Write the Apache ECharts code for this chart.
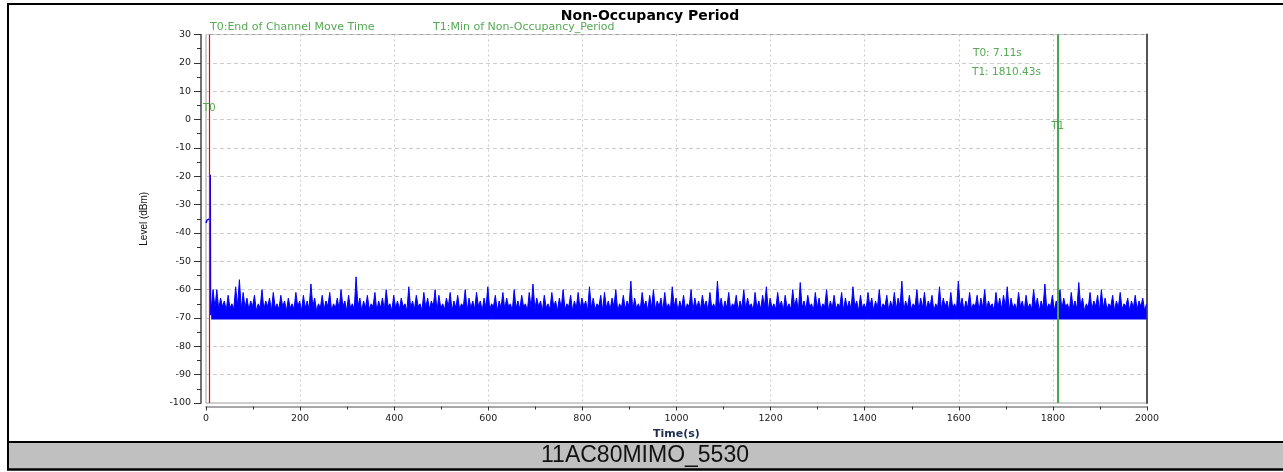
<!DOCTYPE html>
<html>
<head>
<meta charset="utf-8">
<script src="https://cdn.jsdelivr.net/npm/echarts@6/dist/echarts.min.js"></script>
<style>
html,body{margin:0;padding:0;background:#fff;}
#chart{width:1283px;height:472px;}
</style>
</head>
<body>
<div id="chart"></div>
<script>
// ---- data ----
const chartTitle = 'Non-Occupancy Period';
const footerText = '11AC80MIMO_5530';
const xName = 'Time(s)';
const yName = 'Level (dBm)';
const xMin = 0, xMax = 2000, xInterval = 200;
const yMin = -100, yMax = 30, yInterval = 10;

const markerNames = ['T0', 'T1'];
const markerTimes = [7.11, 1810.43];
const markerLabelLevels = [4, -2.5];
const markerLegend = ['T0:End of Channel Move Time', 'T1:Min of Non-Occupancy_Period'];

// start of the trace (before / at the channel move)
const earlyTimes  = [0, 1, 2, 3, 4, 6, 8.5, 9, 9.5, 10, 11];
const earlyLevels = [-36.5, -36, -35.5, -36, -35, -35.5, -35, -19.5, -60, -69, -67];

// noise floor of the trace
const noiseFloor = -70.5;
// noise trace after the move (upper envelope), sampled every noiseStep seconds from noiseStart
const noiseStart = 11;
const noiseStep = 4;
const noiseLevels = [
 -67,-60,-66.5,-60,-67,-63,-66,-64,-67.5,-62,-66.5,-65,-67,-59,-66,-56.5,-67,-61,-66.5,-63,
 -67,-64,-66,-62,-67.5,-65,-66.5,-60,-67,-64,-66,-63,-67.5,-61,-66.5,-65,-67,-62,-66,-64,
 -67.5,-63,-66.5,-65,-67,-61,-66,-64,-67.5,-62,-66.5,-64,-67,-58,-66,-63,-67.5,-65,-66.5,-62,
 -67,-64,-66,-61,-67.5,-65,-66.5,-63,-67,-60,-66,-64,-67.5,-62,-66.5,-65,-67,-55.5,-66,-63,
 -67.5,-64,-66.5,-62,-67,-65,-66,-61,-67.5,-64,-66.5,-63,-67,-60,-66,-65,-67.5,-62,-66.5,-64,
 -67,-63,-66,-65,-67.5,-59,-66.5,-64,-67,-62,-66,-65,-67.5,-61,-66.5,-63,-67,-64,-66,-60,
 -67.5,-62,-66.5,-65,-67,-63,-66,-61,-67.5,-64,-66.5,-62,-67,-65,-66,-60,-67.5,-63,-66.5,-64,
 -67,-61,-66,-64,-67.5,-63,-66.5,-59,-67,-65,-66,-62,-67.5,-64,-66.5,-61,-67,-63,-66,-65,
 -67.5,-60,-66.5,-64,-67,-62,-66,-65,-67.5,-61,-66.5,-58,-67,-63,-66,-64,-67.5,-62,-66.5,-65,
 -67,-61,-66,-64,-67.5,-63,-66.5,-60,-67,-65,-66,-62,-67.5,-64,-66.5,-61,-67,-63,-66,-64,
 -67.5,-59,-66.5,-63,-67,-65,-66,-62,-67.5,-61,-66.5,-64,-67,-63,-66,-60,-67.5,-65,-66.5,-62,
 -67,-64,-66,-57,-67.5,-63,-66.5,-65,-67,-61,-66,-64,-67.5,-62,-66.5,-60,-67,-64,-66,-63,
 -67.5,-61,-66.5,-65,-67,-59,-66,-63,-67.5,-64,-66.5,-62,-67,-65,-66,-60,-67.5,-63,-66.5,-64,
 -67,-62,-66,-64,-67.5,-61,-66.5,-65,-67,-57,-66,-63,-67.5,-64,-66.5,-61,-67,-65,-66,-62,
 -67.5,-64,-66.5,-60,-67,-63,-66,-65,-67.5,-61,-66.5,-64,-67,-62,-66,-59,-67.5,-63,-66.5,-65,
 -67,-61,-66,-64,-67.5,-62,-66.5,-65,-67,-60,-66,-63,-67.5,-57.5,-66.5,-64,-67,-62,-66,-65,
 -67.5,-61,-66.5,-63,-67,-65,-66,-60,-67.5,-64,-66.5,-62,-67,-65,-66,-61,-67.5,-63,-66.5,-64,
 -67,-59,-66,-64,-67.5,-62,-66.5,-65,-67,-61,-66,-63,-67.5,-64,-66.5,-60,-67,-65,-66,-62,
 -67.5,-64,-66.5,-61,-67,-63,-66,-57,-67.5,-64,-66.5,-62,-67,-65,-66,-60,-67.5,-63,-66.5,-61,
 -67,-64,-66,-62,-67.5,-65,-66.5,-59,-67,-63,-66,-64,-67.5,-61,-66.5,-65,-67,-57,-66,-63,
 -67.5,-64,-66.5,-61,-67,-65,-66,-62,-67.5,-63,-66.5,-60,-67,-64,-66,-65,-67.5,-61,-66.5,-63,
 -67,-62,-66,-59,-67.5,-63,-66.5,-65,-67,-61,-66,-64,-67.5,-62,-66.5,-65,-67,-60,-66,-63,
 -67.5,-64,-66.5,-58,-67,-65,-66,-62,-67.5,-64,-66.5,-60,-67,-63,-66,-65,-67.5,-61,-66.5,-64,
 -67,-57.5,-66,-63,-67.5,-65,-66.5,-61,-67,-64,-66,-62,-67.5,-60,-66.5,-63,-67,-65,-66,-62,
 -67.5,-64,-66.5,-61,-67,-65,-66,-63,-67.5,-64,-66.5,-62,-67,-64,-66,-63,-67.5,-65
];

// ---- build ----
const earlyTrace = earlyTimes.map((t, i) => [t, earlyLevels[i]]);
const noiseTrace = noiseLevels.map((v, i) => [noiseStart + i * noiseStep, v]);

const green = '#55a955';
const traceBlue = '#0000ff';
const markerLineColors = ['#ff0000', '#4aa84a'];
const markerLineWidths = [1.2, 2];
const axisFont = 'DejaVu Sans';

const chart = echarts.init(document.getElementById('chart'), null, {renderer: 'canvas'});
chart.setOption({
  animation: false,
  backgroundColor: '#fff',
  title: {
    text: chartTitle,
    left: 645, top: 4, textAlign: 'center',
    textStyle: {fontSize: 14, fontWeight: 'bold', fontFamily: 'DejaVu Sans', color: '#000'}
  },
  grid: {
    left: 206, right: 136, top: 34.5, bottom: 69,
    show: true, borderColor: '#a0a0a0', borderWidth: 1
  },
  xAxis: [{
    type: 'value', min: xMin, max: xMax, interval: xInterval,
    offset: 3.5,
    name: xName, nameLocation: 'middle', nameGap: 22,
    nameTextStyle: {fontFamily: 'DejaVu Sans', fontWeight: 'bold', fontSize: 11, color: '#1f2d50'},
    axisLine: {show: true, onZero: false, lineStyle: {color: '#8a8a8a', width: 1.5}},
    axisTick: {show: true, length: 4, lineStyle: {color: '#333'}},
    minorTick: {show: true, splitNumber: 2, length: 3, lineStyle: {color: '#333'}},
    axisLabel: {fontFamily: axisFont, fontSize: 9.5, color: '#222', margin: 7,
                formatter: v => String(v)},
    splitLine: {show: true, lineStyle: {color: '#cccccc', type: [2, 3], width: 1}}
  }],
  yAxis: [{
    type: 'value', min: yMin, max: yMax, interval: yInterval,
    offset: 5,
    name: yName, nameLocation: 'middle', nameGap: 52, nameRotate: 90,
    nameTextStyle: {fontFamily: 'Liberation Sans Narrow, Liberation Sans', fontSize: 10, color: '#111'},
    axisLine: {show: true, onZero: false, lineStyle: {color: '#444', width: 1.5}},
    axisTick: {show: true, length: 7, lineStyle: {color: '#333'}},
    minorTick: {show: true, splitNumber: 2, length: 4, lineStyle: {color: '#333'}},
    axisLabel: {fontFamily: axisFont, fontSize: 9.5, color: '#222', margin: 10},
    splitLine: {show: true, lineStyle: {color: '#cccccc', type: [4, 3], width: 1}}
  }, {
    type: 'value', min: yMin, max: yMax, interval: yInterval, position: 'right',
    axisLine: {show: true, onZero: false, lineStyle: {color: '#555', width: 2}},
    axisTick: {show: false}, axisLabel: {show: false}, splitLine: {show: false}
  }],
  series: [{
    name: 'start',
    type: 'line',
    data: earlyTrace,
    showSymbol: false, symbol: 'none', sampling: null,
    lineStyle: {color: traceBlue, width: 1.5},
    z: 3
  }, {
    name: 'noise',
    type: 'line',
    data: noiseTrace,
    showSymbol: false, symbol: 'none', sampling: null,
    lineStyle: {color: traceBlue, width: 1},
    areaStyle: {color: traceBlue, opacity: 1, origin: noiseFloor},
    clip: true,
    z: 2,
    markLine: {
      silent: true, symbol: 'none',
      label: {show: false},
      z: 5,
      data: markerTimes.map((t, i) => ({
        xAxis: t,
        lineStyle: {color: markerLineColors[i], width: markerLineWidths[i], type: 'solid'}
      }))
    },
    markPoint: {
      silent: true,
      symbol: 'rect', symbolSize: 0,
      data: markerTimes.map((t, i) => ({
        coord: [t, markerLabelLevels[i]],
        label: {show: true, formatter: markerNames[i], position: 'inside',
                color: green, fontFamily: 'DejaVu Sans', fontSize: 10}
      }))
    }
  }],
  graphic: [
    {type: 'rect', shape: {x: 8, y: 442, width: 1290, height: 27.5},
     style: {fill: '#c0c0c0', stroke: '#000', lineWidth: 2}, z: 0},
    {type: 'rect', shape: {x: 8, y: 4, width: 1290, height: 465.5},
     style: {fill: 'none', stroke: '#000', lineWidth: 2}, z: 0},
    {type: 'text', x: 645, y: 456,
     style: {text: footerText, fill: '#111', font: '23px "Liberation Sans"', textAlign: 'center', textVerticalAlign: 'middle'}},
    {type: 'text', x: 210, y: 27,
     style: {text: markerLegend[0], fill: green, font: '11px "DejaVu Sans"', textAlign: 'left', textVerticalAlign: 'middle'}},
    {type: 'text', x: 433, y: 27,
     style: {text: markerLegend[1], fill: green, font: '11px "DejaVu Sans"', textAlign: 'left', textVerticalAlign: 'middle'}},
    {type: 'text', x: 973, y: 53,
     style: {text: markerNames[0] + ': ' + markerTimes[0] + 's', fill: green, font: '10.5px "DejaVu Sans"', textAlign: 'left', textVerticalAlign: 'middle'}},
    {type: 'text', x: 972, y: 72,
     style: {text: markerNames[1] + ': ' + markerTimes[1] + 's', fill: green, font: '10.5px "DejaVu Sans"', textAlign: 'left', textVerticalAlign: 'middle'}}
  ]
});
</script>
</body>
</html>
